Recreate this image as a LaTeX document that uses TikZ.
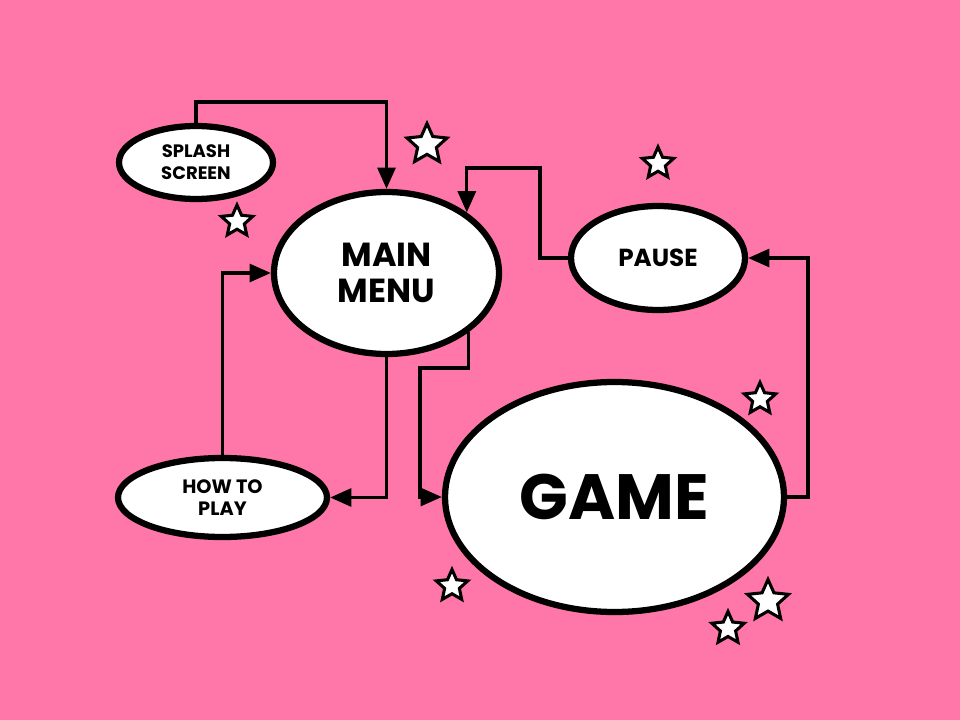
\documentclass[tikz,border=0pt]{standalone}
\usepackage{fontspec}
\setmainfont{Poppins}
\usetikzlibrary{shapes.geometric,arrows.meta}
\pgfdeclarelayer{bg}
\pgfdeclarelayer{lines}
\pgfsetlayers{bg,lines,main}
\definecolor{bgpink}{HTML}{FF77A8}
\newcommand\mystar[3]{\draw[starsty,shift={(#1,#2)},scale=#3] (-90:1) -- (-54:0.47) -- (-18:1) -- (18:0.47) -- (54:1) -- (90:0.47) -- (126:1) -- (162:0.47) -- (198:1) -- (234:0.47) -- cycle;}
\begin{document}
\begin{tikzpicture}[x=0.75pt,y=-0.75pt,
  state/.style={ellipse,draw=black,fill=white,line width=4.7pt,inner sep=0pt,align=center},
  conn/.style={line width=2.4pt,draw=black,-{Triangle[length=16pt,width=13.5pt]}},
  starsty/.style={fill=white,draw=black,line width=2.3pt,line join=miter}]
\begin{pgfonlayer}{bg}
  \fill[bgpink] (0,0) rectangle (960,720);
\end{pgfonlayer}
\useasboundingbox (0,0) rectangle (960,720);

\node[state,minimum width=115.5pt,minimum height=54.75pt,
  font=\fontsize{13.5}{16.3}\selectfont\bfseries] (splash) at (196,162.5) {SPLASH\\SCREEN};
\node[state,minimum width=168.75pt,minimum height=121.5pt,
  font=\fontsize{25}{27.5}\selectfont\bfseries] (main) at (386.5,273) {MAIN\\MENU};
\node[state,minimum width=130.5pt,minimum height=78pt,
  font=\fontsize{18.5}{22}\selectfont\bfseries] (pause) at (658,258) {PAUSE};
\node[state,minimum width=156.75pt,minimum height=59.25pt,
  font=\fontsize{14.5}{16.5}\selectfont\bfseries] (howto) at (222.5,497.5) {HOW TO\\PLAY};
\node[state,minimum width=254.25pt,minimum height=172.5pt,
  font=\fontsize{48}{52}\selectfont\bfseries] (game) at (614.5,497) {GAME};

\coordinate (t1) at (300,102);
\coordinate (k2) at (420,368);
\coordinate (k3) at (808,258);
\coordinate (k4) at (540,168);

\begin{pgfonlayer}{lines}
  \draw[conn] (splash.north) |- (t1) -| (main.north);
  \draw[conn] (main.south) |- (howto.east);
  \draw[conn] (howto.north) |- (main.west);
  \draw[conn] (main.-36) |- (k2) |- (game.west);
  \draw[conn] (game.east) -| (k3) -- (pause.east);
  \draw[conn] (pause.west) -| (k4) -| (main.37.5);
\end{pgfonlayer}

\mystar{427}{144.5}{21}
\mystar{237}{221.5}{16.5}
\mystar{658}{163.5}{16.5}
\mystar{760}{399}{16.5}
\mystar{452}{586}{16.5}
\mystar{768}{601}{21.5}
\mystar{728}{628.5}{17}
\end{tikzpicture}
\end{document}
